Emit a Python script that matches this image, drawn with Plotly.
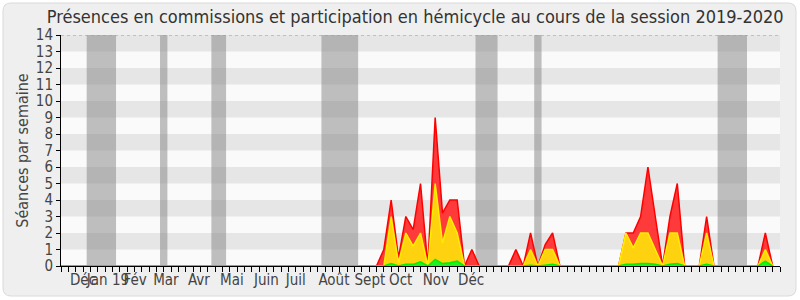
import plotly.graph_objects as go

# ---- data ----
weeks = list(range(98))
red_total = [0]*43 + [0, 1, 4, 0.5, 3, 2.2, 5, 0, 9, 3.2, 4, 4, 0, 1, 0, 0, 0, 0, 0, 1, 0, 2, 0, 1.3, 2,
                     0, 0, 0, 0, 0, 0, 0, 0, 0, 2, 2, 3, 6, 3, 0, 3, 5, 0, 0, 0, 3, 0, 0, 0, 0, 0, 0, 0, 2, 0]
yellow_vals = [0]*43 + [0, 0, 3, 0.2, 2, 1.2, 2, 0, 5, 1.4, 3, 2, 0, 0, 0, 0, 0, 0, 0, 0, 0, 1, 0, 1, 1,
                        0, 0, 0, 0, 0, 0, 0, 0, 0, 2, 1.1, 2, 2, 1, 0, 2, 2, 0, 0, 0, 2, 0, 0, 0, 0, 0, 0, 0, 1, 0]
green_vals = [0]*43 + [0, 0, 0.15, 0, 0.1, 0.1, 0.25, 0, 0.4, 0.15, 0.2, 0.3, 0, 0, 0, 0, 0, 0, 0, 0, 0, 0.05, 0, 0.05, 0.1,
                       0, 0, 0, 0, 0, 0, 0, 0, 0, 0.1, 0.1, 0.15, 0.15, 0.1, 0, 0.1, 0.15, 0, 0, 0, 0.1, 0, 0, 0, 0, 0, 0, 0, 0.3, 0]
vac_start = [3.5, 13.5, 20.5, 35.5, 56.5, 64.5, 89.5]
vac_end = [7.5, 14.5, 22.5, 40.5, 59.5, 65.5, 93.5]
month_pos = [3.0, 6.4, 10.1, 14.3, 18.8, 23.3, 28.0, 32.0, 37.2, 42.1, 46.3, 51.1, 55.9]
month_labels = ["Déc", "Jan 19", "Fév", "Mar", "Avr", "Mai", "Juin", "Juil", "Août", "Sept", "Oct", "Nov", "Déc"]
y_ticks = list(range(15))

W, H = 800, 300
L, R, T, B = 61, 20, 35, 34
pw, ph = W - L - R, H - T - B
FONT = "DejaVu Sans Condensed, DejaVu Sans"

def px(x):
    return (x - L) / pw

def py(y):
    return (H - B - y) / ph

fig = go.Figure()

fig.add_trace(go.Scatter(x=weeks, y=red_total, mode="lines", fill="tozeroy",
                         line=dict(color="#ff0000", width=1.5), fillcolor="#ff3a3a",
                         hoverinfo="skip", showlegend=False))
fig.add_trace(go.Scatter(x=weeks, y=yellow_vals, mode="lines", fill="tozeroy",
                         line=dict(color="#ffee00", width=1.5), fillcolor="#ffd20f",
                         hoverinfo="skip", showlegend=False))
fig.add_trace(go.Scatter(x=weeks, y=green_vals, mode="lines", fill="tozeroy",
                         line=dict(color="#00ee00", width=1.5), fillcolor="#22ee22",
                         hoverinfo="skip", showlegend=False))
# invisible trace on overlay axis for weekly ticks
fig.add_trace(go.Scatter(x=[0, 98], y=[0, 0], xaxis="x2", mode="lines",
                         line=dict(width=0), hoverinfo="skip", showlegend=False))

shapes = []
x0, y0, x1, y1 = px(3), py(3), px(796), py(296)
rx, ry = 8 / pw, 8 / ph
path = (f"M {x0+rx},{y0} L {x1-rx},{y0} Q {x1},{y0} {x1},{y0-ry} "
        f"L {x1},{y1+ry} Q {x1},{y1} {x1-rx},{y1} L {x0+rx},{y1} Q {x0},{y1} {x0},{y1+ry} "
        f"L {x0},{y0-ry} Q {x0},{y0} {x0+rx},{y0} Z")
shapes.append(dict(type="path", xref="paper", yref="paper", path=path,
                   fillcolor="#efefef", line=dict(color="#dadada", width=1), layer="below"))
shapes.append(dict(type="rect", xref="x", yref="y", x0=0, x1=98, y0=0, y1=14,
                   fillcolor="#fafafa", line=dict(width=0), layer="below"))
for k in range(1, 14, 2):
    shapes.append(dict(type="rect", xref="x", yref="y", x0=0, x1=98, y0=k, y1=k + 1,
                       fillcolor="#e6e6e6", line=dict(width=0), layer="below"))
for s, e in zip(vac_start, vac_end):
    shapes.append(dict(type="rect", xref="x", yref="y", x0=s, x1=e, y0=0, y1=14,
                       fillcolor="rgba(130,130,130,0.5)", line=dict(width=0), layer="below"))
shapes.append(dict(type="line", xref="x", yref="y", x0=0, x1=98, y0=14, y1=14,
                   line=dict(color="#999999", width=1, dash="dot"), layer="below"))

fig.update_layout(
    width=W, height=H,
    margin=dict(l=L, r=R, t=T, b=B),
    paper_bgcolor="white", plot_bgcolor="rgba(0,0,0,0)",
    font=dict(family=FONT, color="#333333"),
    shapes=shapes,
    title=dict(text="Présences en commissions et participation en hémicycle au cours de la session 2019-2020",
               x=0.519, xanchor="center", y=0.945, yanchor="middle",
               font=dict(size=18, color="#333333", family=FONT)),
    xaxis=dict(range=[0, 98], showgrid=False, zeroline=False,
               showline=True, linecolor="black", linewidth=1, layer="above traces",
               tickmode="array", tickvals=month_pos, ticktext=month_labels,
               ticks="", tickangle=0, tickfont=dict(size=15, color="#444444", family=FONT)),
    xaxis2=dict(range=[0, 98], overlaying="x", side="bottom", anchor="y",
                showgrid=False, zeroline=False, showline=False, showticklabels=False,
                tickmode="linear", tick0=0, dtick=1, ticks="outside", ticklen=5,
                tickcolor="black", layer="above traces"),
    yaxis=dict(range=[0, 14], showgrid=False, zeroline=False,
               showline=True, linecolor="black", linewidth=1, layer="above traces",
               tickmode="array", tickvals=y_ticks, ticks="outside", ticklen=4, tickcolor="black",
               tickfont=dict(size=15, color="#444444", family=FONT),
               title=dict(text="Séances par semaine", font=dict(size=16, color="#444444", family=FONT), standoff=3)),
)

fig.write_html("out.html")
